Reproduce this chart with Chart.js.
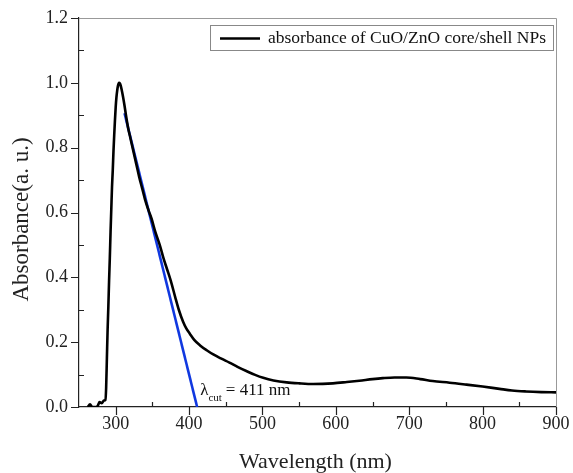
<!DOCTYPE html>
<html>
<head>
<meta charset="utf-8">
<script src="https://cdn.jsdelivr.net/npm/chart.js@4"></script>
<style>
    html, body { margin: 0; padding: 0; background: #fff; }
    #wrap { width: 573px; height: 473px; }
</style>
</head>
<body>
<div id="wrap"><canvas id="grafico" width="573" height="473"></canvas></div>
<script>
// wavelength (nm) and absorbance
const wavelength = [262, 265, 268, 274, 276, 278, 281, 284, 286, 287, 288, 289, 290, 291, 292, 293, 294, 295, 296, 297, 298, 299, 300, 301, 302, 303, 304, 305, 306, 307, 308, 310, 312, 314, 317, 320, 324, 328, 332, 336, 340, 345, 349, 354, 360, 365, 370, 375, 381, 386, 392, 396, 401, 407, 415, 424, 433, 444, 455, 466, 478, 490, 501, 515, 533, 550, 569, 596, 615, 632, 650, 664, 680, 696, 715, 732, 755, 778, 800, 823, 840, 859, 880, 900];
const absorbance = [0.0, 0.008, 0.0, 0.0, 0.006, 0.015, 0.012, 0.02, 0.022, 0.06, 0.15, 0.24, 0.31, 0.39, 0.46, 0.54, 0.61, 0.68, 0.73, 0.79, 0.84, 0.885, 0.925, 0.955, 0.975, 0.99, 0.998, 1.0, 0.997, 0.99, 0.98, 0.957, 0.93, 0.9, 0.86, 0.83, 0.79, 0.75, 0.71, 0.675, 0.64, 0.605, 0.58, 0.54, 0.5, 0.46, 0.425, 0.39, 0.34, 0.3, 0.262, 0.243, 0.226, 0.207, 0.19, 0.175, 0.162, 0.149, 0.137, 0.124, 0.111, 0.099, 0.09, 0.082, 0.076, 0.073, 0.071, 0.073, 0.077, 0.081, 0.086, 0.089, 0.091, 0.091, 0.086, 0.08, 0.075, 0.069, 0.063, 0.056, 0.051, 0.048, 0.046, 0.045];

// tangent used for the cut-off wavelength
const tangentX = [312, 411];
const tangentY = [0.906, 0];

const xTicks = [300, 400, 500, 600, 700, 800, 900];
const xMinor = [250, 350, 450, 550, 650, 750, 850];
const yTicks = [0.0, 0.2, 0.4, 0.6, 0.8, 1.0, 1.2];
const yMinor = [0.1, 0.3, 0.5, 0.7, 0.9, 1.1];

const xTitle = 'Wavelength (nm)';
const yTitle = 'Absorbance(a. u.)';

const serif = "'Liberation Serif', 'DejaVu Serif', serif";

// ticks (major outside, minor inside), frame, legend box, lambda label, axis titles
const decorPlugin = {
    id: 'decor',
    afterDraw(chart) {
        const ctx = chart.ctx, a = chart.chartArea;
        const xs = chart.scales.x, ys = chart.scales.y;
        ctx.save();
        ctx.strokeStyle = '#999';
        ctx.lineWidth = 1;
        ctx.beginPath();
        ctx.moveTo(a.left, a.top + 0.5); ctx.lineTo(a.right + 0.5, a.top + 0.5); ctx.lineTo(a.right + 0.5, a.bottom);
        ctx.stroke();

        ctx.strokeStyle = '#222';
        ctx.lineWidth = 1.2;
        ctx.beginPath();
        xTicks.forEach(v => { const p = Math.round(xs.getPixelForValue(v)) + 0.5; ctx.moveTo(p, a.bottom); ctx.lineTo(p, a.bottom + 8); });
        xMinor.forEach(v => { const p = Math.round(xs.getPixelForValue(v)) + 0.5; if (p > a.left + 2) { ctx.moveTo(p, a.bottom); ctx.lineTo(p, a.bottom - 5); } });
        yTicks.forEach(v => { const p = Math.round(ys.getPixelForValue(v)) + 0.5; ctx.moveTo(a.left, p); ctx.lineTo(a.left - 8, p); });
        yMinor.forEach(v => { const p = Math.round(ys.getPixelForValue(v)) + 0.5; ctx.moveTo(a.left, p); ctx.lineTo(a.left + 5, p); });
        ctx.stroke();

        // legend
        const label = chart.data.datasets[0].label;
        ctx.font = '17.5px ' + serif;
        const tw = ctx.measureText(label).width;
        const bw = 58 + tw + 7, bh = 25;
        const bx = a.right - 3 - bw, by = a.top + 7;
        ctx.strokeStyle = '#888';
        ctx.lineWidth = 1;
        ctx.strokeRect(bx + 0.5, by + 0.5, bw, bh);
        ctx.strokeStyle = '#000';
        ctx.lineWidth = 2.5;
        ctx.beginPath(); ctx.moveTo(bx + 10, by + bh / 2 + 1); ctx.lineTo(bx + 50, by + bh / 2 + 1); ctx.stroke();
        ctx.fillStyle = '#111';
        ctx.textBaseline = 'middle';
        ctx.fillText(label, bx + 58, by + bh / 2 + 1);

        // lambda cut label
        const lx = xs.getPixelForValue(tangentX[1]) + 3;
        const ly = ys.getPixelForValue(0) - 12;
        ctx.textBaseline = 'alphabetic';
        ctx.font = '17px ' + serif;
        ctx.fillText('λ', lx, ly);
        const lw = ctx.measureText('λ').width;
        ctx.font = '11px ' + serif;
        ctx.fillText('cut', lx + lw, ly + 6);
        const cw = ctx.measureText('cut').width;
        ctx.font = '17px ' + serif;
        ctx.fillText('= 411 nm', lx + lw + cw + 4, ly);

        // axis titles
        ctx.fillStyle = '#222';
        ctx.textAlign = 'center';
        ctx.textBaseline = 'middle';
        ctx.font = '22px ' + serif;
        ctx.fillText(xTitle, (a.left + a.right) / 2 - 2, 462);
        ctx.translate(22, (a.top + a.bottom) / 2 + 7);
        ctx.rotate(-Math.PI / 2);
        ctx.font = '23px ' + serif;
        ctx.fillText(yTitle, 0, 0);
        ctx.restore();
    }
};

new Chart(document.getElementById('grafico'), {
    type: 'line',
    data: {
        datasets: [
            {
                label: 'absorbance of CuO/ZnO core/shell NPs',
                data: wavelength.map((w, i) => ({ x: w, y: absorbance[i] })),
                borderColor: '#000', borderWidth: 2.6, pointRadius: 0, cubicInterpolationMode: 'monotone'
            },
            {
                label: 'tangent',
                data: tangentX.map((w, i) => ({ x: w, y: tangentY[i] })),
                borderColor: '#1038e0', borderWidth: 2.6, pointRadius: 0
            }
        ]
    },
    options: {
        responsive: false,
        animation: false,
        layout: { padding: { left: 11, right: 17, top: 18, bottom: 0 } },
        plugins: { legend: { display: false }, tooltip: { enabled: false } },
        scales: {
            x: {
                type: 'linear', min: 250, max: 900,
                afterBuildTicks: s => { s.ticks = xTicks.map(v => ({ value: v })); },
                afterFit: s => { s.height = 66; s.paddingLeft = 0; s.paddingRight = 0; },
                grid: { display: false, drawTicks: false },
                border: { display: true, color: '#222', width: 1.2 },
                ticks: { padding: 6, color: '#222', font: { family: serif, size: 18 } }
            },
            y: {
                min: 0, max: 1.2,
                afterBuildTicks: s => { s.ticks = yTicks.map(v => ({ value: v })); },
                afterFit: s => { s.width = 68; s.paddingTop = 0; s.paddingBottom = 0; },
                grid: { display: false, drawTicks: false },
                border: { display: true, color: '#222', width: 1.2 },
                ticks: { padding: 11, color: '#222', font: { family: serif, size: 18 }, callback: v => v.toFixed(1) }
            }
        }
    },
    plugins: [decorPlugin]
});
</script>
</body>
</html>
